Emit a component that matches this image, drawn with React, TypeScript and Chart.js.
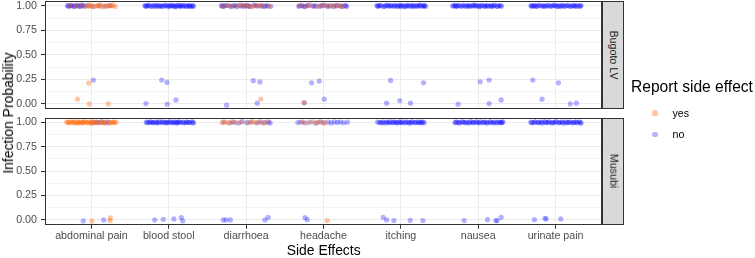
import { useEffect, useRef } from "react";
import { Chart, registerables } from "chart.js";

Chart.register(...registerables);

// ---- data -----------------------------------------------------------------
const categories = [
  "abdominal pain",
  "blood stool",
  "diarrhoea",
  "headache",
  "itching",
  "nausea",
  "urinate pain",
];
const sites = ["Bugoto LV", "Musubi"];
const reportLevels = ["yes", "no"];
const yMajorTicks = [0, 0.25, 0.5, 0.75, 1];
const yGridTicks = [0, 0.125, 0.25, 0.375, 0.5, 0.625, 0.75, 0.875, 1];

// Each observation: [jittered category position (1 = first category), infection probability]
const bugotoYes: [number, number][] = [
  [0.72, 1.004], [0.79, 0.995], [0.86, 1.007], [0.93, 0.993], [0.97, 1.002], [0.98, 0.997],
  [1.0, 1.006], [1.04, 0.994], [1.07, 1.003], [1.09, 0.998], [1.12, 1.008], [1.14, 0.992],
  [1.19, 1.001], [1.21, 0.996], [1.23, 1.005], [1.26, 0.999], [1.28, 1.007], [1.31, 0.994],
  [0.82, 0.048], [0.965, 0.213], [0.973, 0.0], [1.218, 0.0],
  [2.7, 0.997], [2.77, 1.005], [2.82, 0.993], [2.9, 1.002], [2.95, 1.008], [3.0, 0.996],
  [3.03, 1.004], [3.08, 0.991], [3.13, 1.006], [3.17, 0.999], [3.22, 1.003], [3.3, 0.995],
  [3.191, 0.048],
  [3.7, 1.003], [3.78, 0.996], [3.84, 1.007], [3.92, 0.994], [3.98, 1.001], [4.02, 1.008],
  [4.07, 0.993], [4.11, 1.004], [4.16, 0.997], [4.2, 1.006], [4.25, 0.992],
  [3.747, 0.013],
];

const bugotoNo: [number, number][] = [
  [0.7, 0.998], [0.73, 1.006], [0.77, 0.993], [0.8, 1.003], [0.84, 0.996], [0.87, 1.008],
  [0.91, 0.999], [0.95, 1.005], [1.02, 0.994], [1.1, 1.002], [1.17, 0.997], [1.24, 1.004],
  [0.69, 1.002], [0.72, 0.996], [0.75, 1.004], [0.78, 0.998], [0.82, 1.005], [0.86, 0.995],
  [0.89, 1.002],
  [1.025, 0.244],
  [1.69, 1.003], [1.71, 0.995], [1.74, 1.007], [1.76, 0.998], [1.8, 1.002], [1.83, 0.992],
  [1.85, 1.006], [1.88, 0.997], [1.91, 1.004], [1.93, 0.994], [1.95, 1.008], [1.98, 1.0],
  [2.0, 0.993], [2.02, 1.005], [2.05, 0.998], [2.07, 1.003], [2.09, 0.991], [2.12, 1.007],
  [2.14, 0.996], [2.16, 1.002], [2.19, 0.994], [2.21, 1.006], [2.24, 0.999], [2.26, 1.004],
  [2.28, 0.993], [2.31, 1.001], [2.32, 0.997],
  [1.7, 0.999], [1.73, 1.004], [1.78, 0.995], [1.82, 1.006], [1.87, 1.0], [1.9, 0.996],
  [1.96, 1.003], [2.01, 0.998], [2.04, 1.006], [2.08, 0.994], [2.11, 1.002], [2.15, 0.998],
  [2.18, 1.005], [2.23, 0.995], [2.27, 1.002], [2.3, 0.998],
  [1.705, 0.003], [1.908, 0.244], [1.977, 0.219], [1.98, -0.003], [2.093, 0.041],
  [2.68, 1.002], [2.71, 0.994], [2.75, 1.006], [2.79, 0.998], [2.84, 1.004], [2.88, 0.992],
  [2.92, 1.007], [2.97, 0.997], [3.01, 1.003], [3.05, 0.995], [3.1, 1.008], [3.15, 0.999],
  [3.19, 1.004], [3.24, 0.993], [3.28, 1.001], [3.32, 0.996],
  [2.69, 1.0], [2.73, 1.004], [2.81, 0.996], [2.86, 1.003], [2.94, 0.998], [2.99, 1.005],
  [3.04, 0.996], [3.12, 1.002], [3.21, 0.997], [3.26, 1.004],
  [2.748, -0.013], [3.092, 0.237], [3.178, 0.224], [3.143, 0.007],
  [3.68, 0.996], [3.72, 1.004], [3.76, 0.993], [3.81, 1.007], [3.86, 0.999], [3.9, 1.003],
  [3.95, 0.995], [4.0, 1.006], [4.04, 0.998], [4.09, 1.002], [4.13, 0.992], [4.18, 1.005],
  [4.22, 0.997], [4.27, 1.004], [4.3, 0.994],
  [3.69, 1.001], [3.74, 0.997], [3.79, 1.004], [3.88, 0.996], [3.97, 1.003], [4.06, 0.998],
  [4.15, 1.004], [4.24, 0.996], [4.29, 1.002],
  [3.752, 0.011], [3.846, 0.216], [3.945, 0.233], [4.01, 0.048],
  [4.69, 1.003], [4.71, 0.996], [4.74, 1.006], [4.77, 0.993], [4.8, 1.001], [4.82, 1.008],
  [4.85, 0.997], [4.88, 1.004], [4.91, 0.994], [4.93, 1.002], [4.96, 0.998], [4.98, 1.007],
  [5.01, 0.995], [5.03, 1.003], [5.06, 0.992], [5.09, 1.005], [5.11, 0.999], [5.14, 1.006],
  [5.17, 0.994], [5.19, 1.002], [5.22, 0.997], [5.25, 1.008], [5.27, 0.996], [5.3, 1.003],
  [5.32, 0.993],
  [4.7, 0.998], [4.73, 1.004], [4.79, 0.996], [4.84, 1.003], [4.87, 0.999], [4.92, 1.006],
  [4.97, 0.994], [5.0, 1.002], [5.05, 0.997], [5.08, 1.004], [5.13, 0.995], [5.16, 1.002],
  [5.21, 0.999], [5.24, 1.005], [5.29, 0.998], [5.31, 1.004],
  [4.867, 0.24], [5.293, 0.216], [4.815, 0.007], [4.987, 0.034], [5.125, 0.007],
  [5.67, 0.998], [5.7, 1.005], [5.72, 0.993], [5.75, 1.002], [5.78, 0.996], [5.81, 1.007],
  [5.83, 0.999], [5.86, 1.004], [5.89, 0.994], [5.91, 1.001], [5.94, 1.008], [5.97, 0.997],
  [5.99, 1.003], [6.02, 0.992], [6.05, 1.006], [6.08, 0.998], [6.1, 1.004], [6.13, 0.995],
  [6.16, 1.002], [6.18, 0.993], [6.21, 1.007], [6.24, 0.997], [6.27, 1.003], [6.3, 0.996],
  [5.68, 1.003], [5.71, 0.997], [5.74, 1.006], [5.79, 0.999], [5.85, 0.995], [5.88, 1.003],
  [5.93, 0.998], [5.96, 1.005], [6.01, 0.997], [6.04, 1.002], [6.09, 0.994], [6.12, 1.004],
  [6.17, 0.999], [6.2, 1.003], [6.25, 0.995], [6.29, 1.002],
  [6.025, 0.226], [6.14, 0.244], [5.74, -0.003], [6.14, 0.003], [6.296, 0.041],
  [6.68, 1.004], [6.7, 0.995], [6.73, 1.002], [6.76, 0.993], [6.78, 1.007], [6.82, 0.998],
  [6.85, 1.003], [6.87, 0.994], [6.9, 1.006], [6.93, 0.997], [6.96, 1.001], [6.98, 1.008],
  [7.01, 0.995], [7.04, 1.003], [7.06, 0.992], [7.09, 1.005], [7.13, 0.998], [7.16, 1.004],
  [7.19, 0.994], [7.22, 1.002], [7.25, 0.997], [7.28, 1.006], [7.31, 0.993], [7.33, 1.001],
  [6.69, 0.999], [6.72, 1.003], [6.75, 0.997], [6.8, 1.004], [6.84, 0.996], [6.89, 1.002],
  [6.94, 0.999], [6.99, 1.004], [7.03, 0.997], [7.08, 1.002], [7.11, 0.995], [7.15, 1.006],
  [7.2, 0.999], [7.24, 1.003], [7.27, 0.996], [7.32, 1.004],
  [6.705, 0.244], [7.037, 0.216], [6.825, 0.048], [7.19, 0.0], [7.27, 0.007],
];

const musubiYes: [number, number][] = [
  [0.68, 1.003], [0.71, 0.995], [0.73, 1.006], [0.75, 0.998], [0.78, 1.002], [0.8, 0.993],
  [0.82, 1.007], [0.84, 0.997], [0.86, 1.004], [0.88, 0.994], [0.9, 1.001], [0.92, 1.008],
  [0.95, 0.996], [0.97, 1.003], [0.99, 0.992], [1.01, 1.005], [1.04, 0.999], [1.07, 1.004],
  [1.1, 0.995], [1.13, 1.002], [1.16, 0.997], [1.19, 1.006], [1.23, 0.993], [1.27, 1.001],
  [1.3, 0.996], [1.32, 1.004],
  [0.7, 1.0], [0.77, 1.004], [0.83, 0.996], [0.89, 1.003], [0.94, 0.998], [1.0, 1.002],
  [1.05, 0.996], [1.15, 1.003], [1.25, 0.998], [1.29, 1.003],
  [1.008, -0.01], [1.244, 0.02], [1.24, -0.007],
  [2.69, 0.997], [2.73, 1.004], [2.77, 0.994], [2.82, 1.006], [2.86, 0.999], [2.93, 1.003],
  [3.03, 0.995], [3.08, 1.007], [3.12, 0.998], [3.17, 1.002], [3.22, 0.993], [3.27, 1.005],
  [3.73, 1.002], [3.8, 0.995], [3.87, 1.006], [3.92, 0.998], [3.97, 1.003], [4.02, 0.994],
  [4.048, -0.007],
];

const musubiNo: [number, number][] = [
  [1.02, 0.996], [1.06, 1.004], [1.09, 0.998], [1.13, 1.006], [1.18, 0.994], [1.22, 1.002],
  [0.895, -0.01], [1.159, 0.0],
  [1.71, 1.002], [1.74, 0.995], [1.77, 1.006], [1.8, 0.998], [1.82, 1.003], [1.85, 0.993],
  [1.88, 1.007], [1.91, 0.997], [1.94, 1.004], [1.97, 0.994], [2.0, 1.001], [2.02, 1.008],
  [2.05, 0.996], [2.07, 1.003], [2.1, 0.992], [2.12, 1.005], [2.15, 0.999], [2.18, 1.004],
  [2.21, 0.995], [2.24, 1.002], [2.27, 0.997], [2.3, 1.006], [2.32, 0.993],
  [1.72, 0.999], [1.76, 1.004], [1.79, 0.996], [1.84, 1.003], [1.87, 0.998], [1.92, 1.005],
  [1.96, 0.997], [1.99, 1.003], [2.04, 0.995], [2.08, 1.004], [2.11, 0.998], [2.14, 1.003],
  [2.19, 0.996], [2.23, 1.004], [2.26, 0.999], [2.31, 1.002],
  [1.818, 0.0], [1.929, 0.006], [2.067, 0.01], [2.162, 0.024], [2.18, -0.01],
  [2.71, 1.004], [2.79, 0.996], [2.84, 1.002], [2.9, 0.993], [2.95, 1.007], [3.01, 0.998],
  [3.06, 1.003], [3.14, 0.995], [3.19, 1.006], [3.24, 0.997], [3.29, 1.002], [3.31, 0.994],
  [2.704, 0.0], [2.74, 0.0], [2.795, 0.0], [3.243, 0.0], [3.286, 0.027],
  [3.67, 0.998], [3.71, 1.004], [3.76, 0.995], [3.83, 1.003], [3.9, 0.992], [3.95, 1.006],
  [4.0, 0.997], [4.06, 1.002], [4.1, 0.994], [4.14, 1.005], [4.18, 0.999], [4.22, 1.004],
  [4.26, 0.996], [4.31, 1.002],
  [3.76, 0.024], [3.79, 0.003],
  [4.7, 1.003], [4.74, 0.996], [4.77, 1.006], [4.8, 0.993], [4.83, 1.001], [4.86, 1.007],
  [4.89, 0.997], [4.92, 1.004], [4.95, 0.994], [4.97, 1.002], [5.0, 0.998], [5.03, 1.006],
  [5.06, 0.995], [5.09, 1.003], [5.12, 0.992], [5.15, 1.005], [5.18, 0.999], [5.21, 1.004],
  [5.24, 0.996], [5.27, 1.002], [5.3, 0.994],
  [4.72, 1.001], [4.76, 0.997], [4.81, 1.004], [4.85, 0.995], [4.9, 1.002], [4.94, 0.998],
  [4.99, 1.005], [5.02, 0.996], [5.07, 1.003], [5.11, 0.998], [5.14, 1.004], [5.19, 0.995],
  [5.23, 1.002], [5.26, 0.998], [5.29, 1.004],
  [4.771, 0.027], [4.815, 0.0], [4.91, -0.007], [5.121, -0.004], [5.285, -0.007],
  [5.7, 0.997], [5.73, 1.004], [5.76, 0.994], [5.79, 1.006], [5.82, 0.999], [5.85, 1.003],
  [5.88, 0.993], [5.91, 1.007], [5.94, 0.998], [5.97, 1.002], [6.0, 0.995], [6.03, 1.005],
  [6.06, 0.997], [6.09, 1.003], [6.12, 0.992], [6.15, 1.006], [6.18, 0.998], [6.21, 1.004],
  [6.24, 0.994], [6.27, 1.002], [6.3, 0.996], [6.32, 1.005],
  [5.71, 1.002], [5.75, 0.997], [5.8, 1.004], [5.84, 0.995], [5.89, 1.002], [5.93, 0.998],
  [5.98, 1.005], [6.02, 0.996], [6.07, 1.003], [6.11, 0.998], [6.16, 1.004], [6.2, 0.995],
  [6.25, 1.002], [6.29, 0.998], [6.31, 1.003],
  [5.818, -0.007], [6.12, 0.003], [6.227, -0.007], [6.245, -0.007], [6.296, 0.027],
  [6.68, 1.002], [6.71, 0.995], [6.74, 1.006], [6.77, 0.998], [6.8, 1.003], [6.83, 0.993],
  [6.86, 1.007], [6.89, 0.997], [6.92, 1.004], [6.95, 0.994], [6.98, 1.001], [7.01, 1.008],
  [7.04, 0.996], [7.07, 1.003], [7.1, 0.992], [7.13, 1.005], [7.16, 0.999], [7.19, 1.004],
  [7.22, 0.995], [7.25, 1.002], [7.28, 0.997], [7.31, 1.006], [7.33, 0.993],
  [6.69, 0.998], [6.73, 1.004], [6.78, 0.996], [6.82, 1.002], [6.87, 0.999], [6.91, 1.005],
  [6.96, 0.996], [7.0, 1.003], [7.05, 0.998], [7.09, 1.004], [7.14, 0.995], [7.18, 1.002],
  [7.23, 0.998], [7.27, 1.004], [7.32, 0.997],
  [6.727, 0.003], [6.864, 0.017], [6.877, 0.01], [7.067, 0.01],
];

// ---- styling --------------------------------------------------------------
const FONT = "'Liberation Sans', Arial, Helvetica, sans-serif";
const YES_COLOR = "rgba(255, 105, 15, 0.38)";
const NO_COLOR = "rgba(0, 0, 255, 0.3)";
const POINT_R = 2.6;
const AXIS_TEXT = "#4D4D4D";
const DARK = "#333333";
const GRID = "#EBEBEB";
const WIDTH = 755;
const PANEL_RIGHT_PAD = 153;

const panelBorder = {
  id: "panelBorder",
  afterDatasetsDraw(chart: Chart) {
    const { ctx, chartArea } = chart;
    ctx.save();
    ctx.strokeStyle = DARK;
    ctx.lineWidth = 1;
    ctx.strokeRect(
      Math.round(chartArea.left) + 0.5,
      Math.round(chartArea.top) + 0.5,
      Math.round(chartArea.right - chartArea.left) - 1,
      Math.round(chartArea.bottom - chartArea.top) - 1
    );
    ctx.restore();
  },
};

const isMajor = (v: number) => yMajorTicks.some((m) => Math.abs(m - v) < 1e-9);

function buildPanel(
  canvas: HTMLCanvasElement,
  yes: [number, number][],
  no: [number, number][],
  padTop: number,
  xHeight: number,
  showX: boolean
) {
  return new Chart(canvas, {
    type: "scatter",
    data: {
      datasets: [
        {
          label: reportLevels[0],
          data: yes.map(([x, y]) => ({ x, y })),
          backgroundColor: YES_COLOR,
          borderWidth: 0,
          pointRadius: POINT_R,
        },
        {
          label: reportLevels[1],
          data: no.map(([x, y]) => ({ x, y })),
          backgroundColor: NO_COLOR,
          borderWidth: 0,
          pointRadius: POINT_R,
        },
      ],
    },
    options: {
      responsive: false,
      animation: false,
      events: [],
      layout: {
        autoPadding: false,
        padding: { top: padTop, right: PANEL_RIGHT_PAD, left: 0, bottom: 0 },
      },
      plugins: { legend: { display: false }, tooltip: { enabled: false } },
      scales: {
        x: {
          type: "linear",
          min: 0.4,
          max: 7.6,
          afterBuildTicks: (s: any) => {
            s.ticks = categories.map((_, i) => ({ value: i + 1 }));
          },
          afterFit: (s: any) => {
            s.height = xHeight;
            s.paddingLeft = 0;
            s.paddingRight = 0;
            s.paddingTop = 0;
            s.paddingBottom = 0;
          },
          ticks: {
            display: showX,
            autoSkip: false,
            maxRotation: 0,
            color: AXIS_TEXT,
            padding: 1,
            font: { family: FONT, size: 10.7 },
            callback: (v: any) => categories[Math.round(Number(v)) - 1],
          },
          grid: {
            color: GRID,
            lineWidth: 1,
            drawTicks: showX,
            tickLength: 4,
            tickColor: DARK,
          },
          border: { display: false },
        },
        y: {
          type: "linear",
          min: -0.05,
          max: 1.05,
          afterBuildTicks: (s: any) => {
            s.ticks = yGridTicks.map((v) => ({ value: v }));
          },
          afterFit: (s: any) => {
            s.width = 45;
            s.paddingLeft = 0;
            s.paddingRight = 0;
            s.paddingTop = 0;
            s.paddingBottom = 0;
          },
          ticks: {
            autoSkip: false,
            color: AXIS_TEXT,
            padding: 4,
            font: { family: FONT, size: 10.7 },
            callback: (v: any) => (isMajor(Number(v)) ? Number(v).toFixed(2) : ""),
          },
          grid: {
            color: GRID,
            lineWidth: (c: any) => (isMajor(c.tick?.value) ? 1 : 0.5),
            tickLength: 4,
            tickColor: (c: any) => (isMajor(c.tick?.value) ? DARK : "rgba(0,0,0,0)"),
          },
          border: { display: false },
        },
      },
    },
    plugins: [panelBorder],
  } as any);
}

function Text(props: {
  x: number;
  y: number;
  size: number;
  color?: string;
  rotate?: number;
  anchor?: "center" | "left";
  children: string;
}) {
  const { x, y, size, color = "#000000", rotate = 0, anchor = "center", children } = props;
  return (
    <div
      style={{
        position: "absolute",
        left: x,
        top: y,
        fontFamily: FONT,
        fontSize: size,
        lineHeight: 1,
        color,
        whiteSpace: "nowrap",
        transformOrigin: "0 0",
        transform:
          anchor === "center"
            ? `rotate(${rotate}deg) translate(-50%, -50%)`
            : `translate(0, -50%)`,
      }}
    >
      {children}
    </div>
  );
}

function Strip(props: { top: number; height: number; label: string }) {
  return (
    <div
      style={{
        position: "absolute",
        left: 602,
        top: props.top,
        width: 22,
        height: props.height,
        boxSizing: "border-box",
        border: `1px solid ${DARK}`,
        background: "#D9D9D9",
      }}
    >
      <Text x={10.5} y={props.height / 2 - 1} size={10.7} color="#1A1A1A" rotate={90}>
        {props.label}
      </Text>
    </div>
  );
}

function Dot(props: { x: number; y: number; color: string }) {
  return (
    <div
      style={{
        position: "absolute",
        left: props.x - POINT_R,
        top: props.y - POINT_R,
        width: POINT_R * 2,
        height: POINT_R * 2,
        borderRadius: "50%",
        background: props.color,
      }}
    />
  );
}

export default function App() {
  const topRef = useRef<HTMLCanvasElement>(null);
  const bottomRef = useRef<HTMLCanvasElement>(null);

  useEffect(() => {
    const charts: Chart[] = [];
    if (topRef.current) charts.push(buildPanel(topRef.current, bugotoYes, bugotoNo, 1, 3.2, false));
    if (bottomRef.current)
      charts.push(buildPanel(bottomRef.current, musubiYes, musubiNo, 5.5, 33.2, true));
    return () => charts.forEach((c) => c.destroy());
  }, []);

  return (
    <div
      style={{
        position: "fixed",
        left: 0,
        top: 0,
        width: WIDTH,
        height: 258,
        background: "#FFFFFF",
        overflow: "hidden",
      }}
    >
      <canvas
        ref={topRef}
        width={WIDTH}
        height={112}
        style={{ position: "absolute", left: 0, top: 0, display: "block" }}
      />
      <canvas
        ref={bottomRef}
        width={WIDTH}
        height={146}
        style={{ position: "absolute", left: 0, top: 112, display: "block" }}
      />

      <Strip top={1} height={107.8} label={sites[0]} />
      <Strip top={117.5} height={107.3} label={sites[1]} />

      <Text x={9} y={113} size={13.9} rotate={-90}>
        Infection Probability
      </Text>
      <Text x={323.7} y={251} size={13.9}>
        Side Effects
      </Text>

      <Text x={631} y={86.7} size={15.6} anchor="left">
        Report side effect
      </Text>
      <Dot x={655} y={113} color={YES_COLOR} />
      <Text x={672.5} y={113} size={10.7} anchor="left">
        {reportLevels[0]}
      </Text>
      <Dot x={655} y={134.3} color={NO_COLOR} />
      <Text x={672.5} y={134.3} size={10.7} anchor="left">
        {reportLevels[1]}
      </Text>
    </div>
  );
}
